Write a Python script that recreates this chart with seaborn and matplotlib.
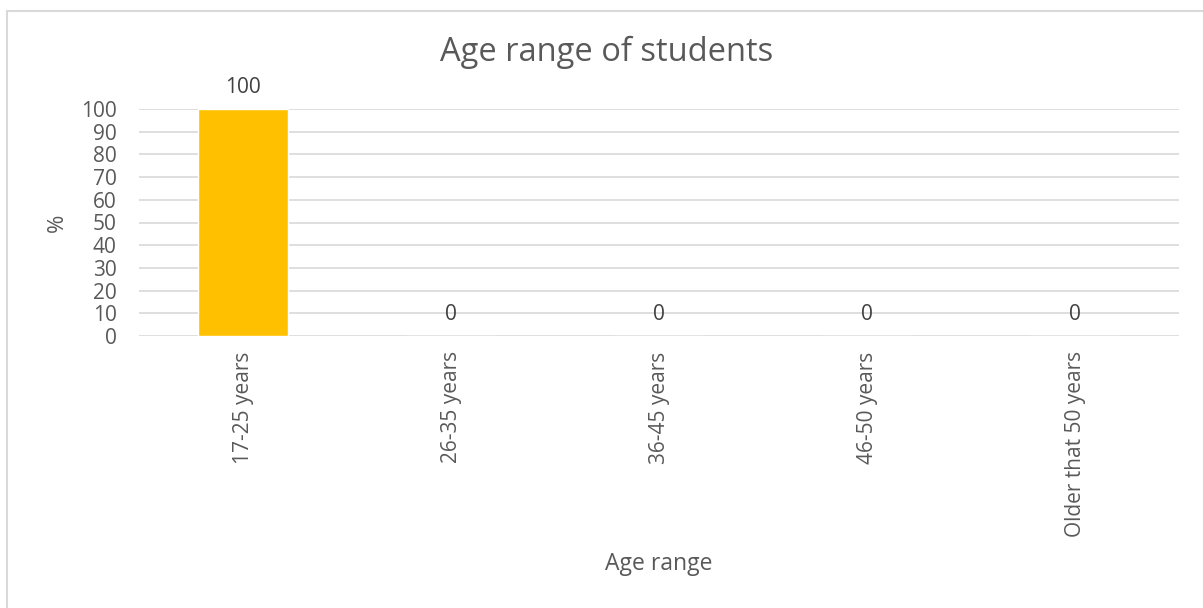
import matplotlib
matplotlib.use("Agg")
import matplotlib.pyplot as plt
import seaborn as sns
import pandas as pd
from matplotlib.patches import Rectangle

categories = ["17-25 years", "26-35 years", "36-45 years", "46-50 years", "Older that 50 years"]
values = [100, 0, 0, 0, 0]
yticks = [0, 10, 20, 30, 40, 50, 60, 70, 80, 90, 100]

sns.set_theme(style="white")
plt.rcParams['font.family'] = ['Open Sans', 'DejaVu Sans']

W, H = 1203, 608
fig = plt.figure(figsize=(W/100, H/100), dpi=100)
ax = fig.add_axes([139/W, 1-336/H, (1179-139)/W, (336-109)/H])

df = pd.DataFrame({"cat": categories, "val": values})
sns.barplot(data=df, x="cat", y="val", color="#FFC000", width=0.43, saturation=1, ax=ax)

txt = "#595959"
ax.set_ylim(0, 100)
ax.set_xlim(-0.5, len(categories)-0.5)
ax.set_yticks(yticks)
ax.yaxis.grid(True, color="#D9D9D9", lw=1.2)
ax.set_axisbelow(True)
for s in ax.spines.values():
    s.set_visible(False)
ax.tick_params(axis='y', length=0, labelsize=15, labelcolor=txt, pad=16)
ax.tick_params(axis='x', length=0, labelsize=15, labelcolor=txt, pad=11, labelrotation=90)
ax.set_xlabel("Age range", fontsize=16.5, color=txt, va="center")
ax.xaxis.set_label_coords(0.5, (336-564)/227)
ax.set_ylabel("%", fontsize=16, color=txt, va="center")
ax.yaxis.set_label_coords((57-139)/1040, 0.5)
fig.text(607/W, 1-52/H, "Age range of students", fontsize=23.5, color=txt,
         ha="center", va="center")

for c in ax.containers:
    ax.bar_label(c, fmt="%g", fontsize=15, color="#404040", padding=8)

fig.patches.append(Rectangle((7/W, -0.1), 1.1, 1+0.1-11/H, transform=fig.transFigure,
                             fill=False, edgecolor="#D9D9D9", lw=1.5))

fig.savefig("out.png", dpi=100)
